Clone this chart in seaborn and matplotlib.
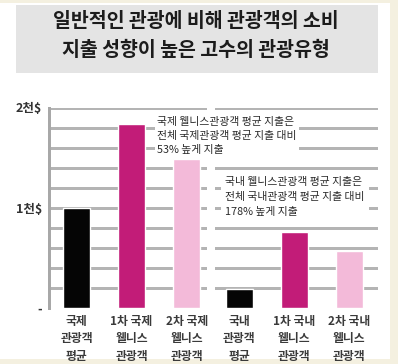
import matplotlib
matplotlib.use('Agg')
import matplotlib.pyplot as plt
import seaborn as sns
import pandas as pd
from matplotlib.patches import Rectangle

# data (천$ units)
intl_labels = ['국제\n관광객\n평균', '1차 국제\n웰니스\n관광객', '2차 국제\n웰니스\n관광객']
intl_values = [1.00, 1.84, 1.49]
dom_labels = ['국내\n관광객\n평균', '1차 국내\n웰니스\n관광객', '2차 국내\n웰니스\n관광객']
dom_values = [0.19, 0.76, 0.57]
bar_colors = ['#050505', '#c21c78', '#f3bad9']
ytick_vals = [0, 0.2, 0.4, 0.6, 0.8, 1.0, 1.2, 1.4, 1.6, 1.8, 2.0]
ytick_text = ['-', '', '', '', '', '1천$', '', '', '', '', '2천$']
title = '일반적인 관광에 비해 관광객의 소비\n지출 성향이 높은 고수의 관광유형'
note_intl = '국제 웰니스관광객 평균 지출은\n전체 국제관광객 평균 지출 대비\n53% 높게 지출'
note_dom = '국내 웰니스관광객 평균 지출은\n전체 국내관광객 평균 지출 대비\n178% 높게 지출'

sns.set_style('white')
plt.rcParams['font.family'] = ['Noto Sans CJK KR', 'DejaVu Sans']

W, H = 398, 364
fig = plt.figure(figsize=(W / 100, H / 100), dpi=100)
fig.patch.set_facecolor('#f4f0e0')

# white panel and grey title box
fig.patches.append(Rectangle((0, 5 / H), 390 / W, (359 - 3) / H, transform=fig.transFigure,
                             facecolor='white', edgecolor='none', zorder=-2))
fig.patches.append(Rectangle((16 / W, 1 - 73 / H), (378 - 16) / W, 68 / H, transform=fig.transFigure,
                             facecolor='#e4e4e4', edgecolor='none', zorder=-1))
fig.text(196 / W, 1 - 36 / H, title, ha='center', va='center', fontsize=14, fontweight='bold',
         color='#1c1c1c', linespacing=1.6)

bottom = 1 - 308 / H
height = 200.5 / H
ax1 = fig.add_axes([49 / W, bottom, (207 - 49) / W, height])
ax2 = fig.add_axes([215 / W, bottom, (378 - 215) / W, height])


def draw(ax, labels, values, xlim):
    df = pd.DataFrame({'cat': labels, 'val': values})
    sns.barplot(data=df, x='cat', y='val', hue='cat', palette=bar_colors, width=0.49,
                saturation=1, dodge=False, legend=False, ax=ax, zorder=3)
    ax.set_xlim(*xlim)
    ax.set_ylim(0, 2.0)
    ax.set_xlabel('')
    ax.set_ylabel('')
    ax.set_yticks(ytick_vals)
    # horizontal grid (skip the zero line), drawn crisp
    ax.hlines(ytick_vals[1:], xlim[0], xlim[1], colors='#b4b4b4', linewidth=1.0, zorder=1,
              antialiased=False, snap=True)
    ax.tick_params(axis='both', length=0)
    ax.tick_params(axis='x', pad=5)
    ax.set_xticks(range(len(labels)))
    ax.set_xticklabels(labels, fontsize=8.5, fontweight='bold', color='#3a3a3a', linespacing=1.45)
    for s in ['top', 'right', 'bottom', 'left']:
        ax.spines[s].set_visible(False)


draw(ax1, intl_labels, intl_values, (-0.5, 2.37))
draw(ax2, dom_labels, dom_values, (-0.44, 2.52))

ax1.spines['left'].set_visible(True)
ax1.spines['left'].set_color('#a8a8a8')
ax1.spines['left'].set_linewidth(1.0)
ax1.spines['left'].set_antialiased(False)
ax1.set_yticklabels(ytick_text, fontsize=9, fontweight='bold', color='#333333')
ax1.tick_params(axis='y', pad=5)
ax2.set_yticklabels([])

fig.text(157 / W, 1 - 136 / H, note_intl, ha='left', va='center', fontsize=7.8, color='#2a2a2a',
         linespacing=1.5, zorder=5,
         bbox=dict(facecolor='white', edgecolor='none', pad=1.5))
fig.text(225 / W, 1 - 197 / H, note_dom, ha='left', va='center', fontsize=7.8, color='#2a2a2a',
         linespacing=1.65, zorder=5,
         bbox=dict(facecolor='white', edgecolor='none', pad=3))

fig.savefig('out.png', dpi=100, facecolor=fig.get_facecolor())
